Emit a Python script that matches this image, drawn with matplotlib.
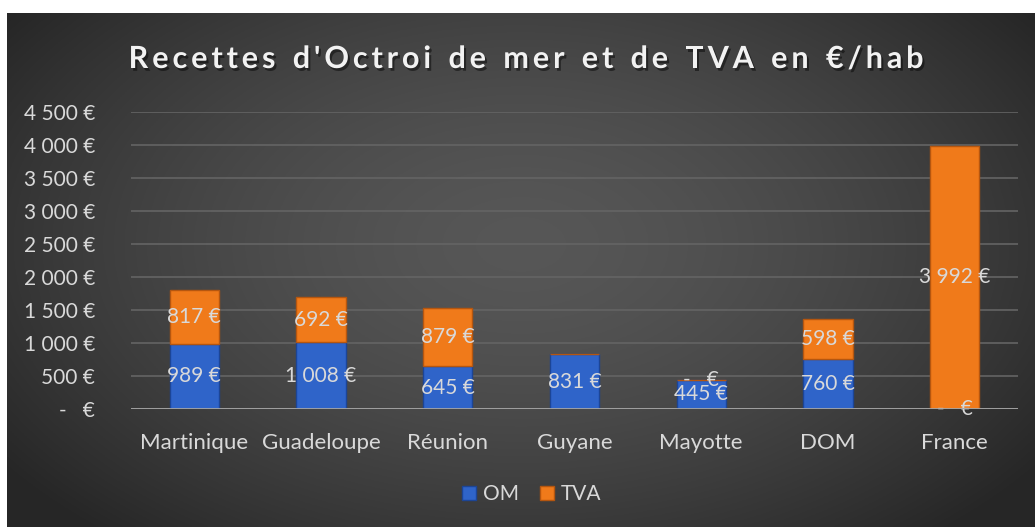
import numpy as np
import matplotlib.pyplot as plt
import matplotlib.patheffects as pe

# data
categories = ['Martinique', 'Guadeloupe', 'Réunion', 'Guyane', 'Mayotte', 'DOM', 'France']
om = [989, 1008, 645, 831, 445, 760, 0]
tva = [817, 692, 879, None, 0, 598, 3992]
yticks = [0, 500, 1000, 1500, 2000, 2500, 3000, 3500, 4000, 4500]
title = "Recettes d'Octroi de mer et de TVA en €/hab"

blue = '#2f64c9'
orange = '#f07a1a'
txt = '#d9d9d9'
plt.rcParams['font.family'] = ['Lato', 'DejaVu Sans']


def euro(v):
    if v == 0:
        return '-   €'
    return f'{v:,.0f} €'.replace(',', ' ')


fig = plt.figure(figsize=(10.35, 5.27), dpi=100)

# dark radial background
bg = fig.add_axes([7 / 1035, 0, 1 - 7 / 1035, 1 - 13 / 527], zorder=0)
yy, xx = np.mgrid[0:1:300j, 0:1:600j]
r = np.clip(np.sqrt(((xx - 0.5) / 0.62) ** 2 + ((yy - 0.45) / 0.75) ** 2), 0, 1)
shade = 0.34 - 0.19 * r ** 1.6
bg.imshow(np.dstack([shade] * 3), aspect='auto', extent=[0, 1, 0, 1])
bg.set_axis_off()

ax = fig.add_axes([131 / 1035, (527 - 409) / 527, (1018 - 131) / 1035, (409 - 112) / 527], zorder=1)
ax.patch.set_alpha(0)
x = np.arange(len(categories))
w = 0.39
tva_vals = [0 if v is None else v for v in tva]
ax.bar(x, om, w, color=blue, edgecolor='#1c4596', linewidth=1, label='OM', zorder=3)
ax.bar(x, tva_vals, w, bottom=om, color=orange, edgecolor='#b5560f', linewidth=1, label='TVA', zorder=3)

# data labels centred in each segment (Guyane has no TVA label)
for i in range(len(categories)):
    ax.text(x[i], om[i] / 2, euro(om[i]), ha='center', va='center', color=txt, fontsize=15, zorder=4)
    if tva[i] is not None:
        ax.text(x[i], om[i] + tva[i] / 2, euro(tva[i]), ha='center', va='center', color=txt,
                fontsize=15, zorder=4)

ax.set_xlim(-0.5, len(categories) - 0.5)
ax.set_ylim(0, 4500)
ax.set_yticks(yticks)
ax.set_yticklabels([euro(v) for v in yticks])
ax.set_xticks(x)
ax.set_xticklabels(categories)
ax.tick_params(length=0, colors=txt)
ax.tick_params(axis='y', pad=26, labelsize=15)
ax.tick_params(axis='x', pad=17, labelsize=16)
for s in ax.spines.values():
    s.set_visible(False)
ax.grid(axis='y', color='#646464', linewidth=1.2, zorder=0)
ax.axhline(0, color='#a6a6a6', linewidth=2, zorder=5)

# letter-spaced title, one glyph at a time, with a soft shadow
fig.canvas.draw()
rend = fig.canvas.get_renderer()
widths = []
for ch in title:
    t = fig.text(0, 0, ch if ch != ' ' else 'n', fontsize=22, fontweight='bold')
    widths.append(t.get_window_extent(rend).width * (0.55 if ch == ' ' else 1))
    t.remove()
spacing = 3.9
total = sum(widths) + spacing * (len(title) - 1)
xpos = 526 - total / 2
shadow = [pe.SimplePatchShadow(offset=(1.5, -2), shadow_rgbFace='black', alpha=0.45), pe.Normal()]
for ch, cw in zip(title, widths):
    if ch != ' ':
        fig.text(xpos / 1035, 1 - 59 / 527, ch, fontsize=22, fontweight='bold', color='#f2f2f2',
                 va='center', zorder=6, path_effects=shadow)
    xpos += cw + spacing

fig.legend(loc='center', bbox_to_anchor=(532 / 1035, 1 - 494 / 527), ncol=2, frameon=False,
           handlelength=0.65, handleheight=0.65, handletextpad=0.35, columnspacing=1.0,
           fontsize=15, labelcolor=txt)

fig.savefig('out.png', dpi=100, facecolor='white')
